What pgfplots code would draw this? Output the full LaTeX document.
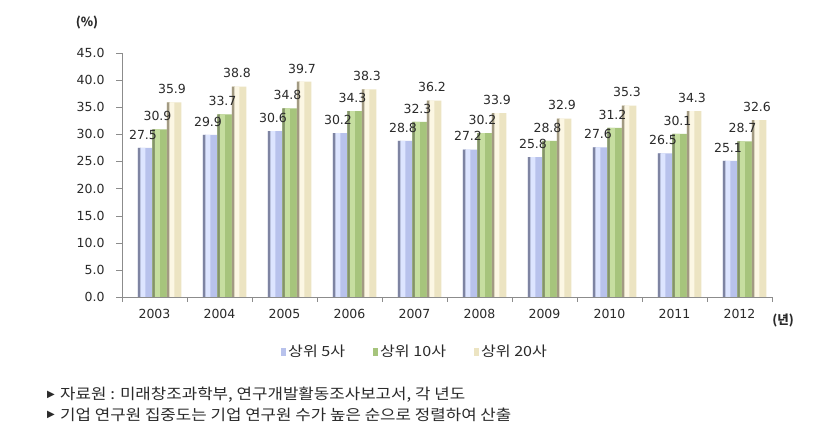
\documentclass[border=0pt]{standalone}
\usepackage{fontspec}
\setmainfont{Noto Sans CJK KR}
\newfontfamily\numfont{DejaVu Sans}
\newfontfamily\symfont{DejaVu Sans}
\usepackage{pgfplots}
\usepackage{pgfplotstable}
\pgfplotsset{compat=1.18}
\definecolor{txt}{HTML}{2A2A2A}
\definecolor{axisgray}{HTML}{8C8C8C}
\definecolor{bdark}{HTML}{7E84A2}\definecolor{bbase}{HTML}{B8C2EC}\definecolor{blite}{HTML}{DDE5FF}
\definecolor{gdark}{HTML}{84946A}\definecolor{gbase}{HTML}{A6C47C}\definecolor{glite}{HTML}{C6DEA0}
\definecolor{ydark}{HTML}{A29A82}\definecolor{ybase}{HTML}{ECE4C2}\definecolor{ylite}{HTML}{FCF7E4}
\pgfplotstableread{
x  s5   s10  s20
0  27.5 30.9 35.9
1  29.9 33.7 38.8
2  30.6 34.8 39.7
3  30.2 34.3 38.3
4  28.8 32.3 36.2
5  27.2 30.2 33.9
6  25.8 28.8 32.9
7  27.6 31.2 35.3
8  26.5 30.1 34.3
9  25.1 28.7 32.6
}\datatable
\begin{document}
\begin{tikzpicture}[x=1pt,y=1pt]
\useasboundingbox (0,0) rectangle (840,438);
\fill[white] (0,0) rectangle (840,438);
\begin{axis}[
  at={(122pt,141pt)}, anchor=south west,
  scale only axis, width=650pt, height=244pt,
  xmin=-0.5, xmax=9.5, ymin=0, ymax=45,
  axis lines=left, axis line style={axisgray, -},
  ybar, bar width=14.5pt,
  xtick={0,...,9},
  xticklabels={2003,2004,2005,2006,2007,2008,2009,2010,2011,2012},
  minor xtick={-0.5,0.5,...,9.5},
  major x tick style={draw=none},
  minor tick length=5pt,
  tick align=outside,
  ytick={0,5,...,45},
  major tick length=6pt,
  tick style={axisgray},
  y tick label style={/pgf/number format/.cd, fixed, fixed zerofill, precision=1, /tikz/.cd, xshift=-8pt},
  /pgf/number format/assume math mode=true,
  tick label style={font=\numfont\fontsize{12.5}{12.5}\selectfont, text=txt},
  x tick label style={yshift=-3pt},
  nodes near coords style={font=\numfont\fontsize{12.5}{12.5}\selectfont, text=txt,
     /pgf/number format/.cd, fixed, fixed zerofill, precision=1, assume math mode=true, /tikz/.cd},
  every node near coord/.append style={yshift=5pt, xshift=-2pt},
  legend columns=3,
  legend style={draw=none, fill=none, at={(0.2446,-0.225)}, anchor=west, inner sep=0pt,
     font=\fontsize{14}{14}\selectfont, text=txt,
     /tikz/every even column/.append style={column sep=26pt}},
  legend image code/.code={\path[#1, draw=none] (0pt,-4pt) rectangle (5pt,4pt);},
  clip=false,
]
% series 1
\addplot[bar shift=-9.5pt, draw=none, fill=bbase, nodes near coords] table[x=x,y=s5] {\datatable};
\addplot[forget plot, bar shift=-15.25pt, bar width=3pt, draw=none, fill=bdark] table[x=x,y=s5] {\datatable};
\addplot[forget plot, bar shift=-11.75pt, bar width=5pt, draw=none, fill=blite] table[x=x,y=s5] {\datatable};
% series 2
\addplot[bar shift=5pt, draw=none, fill=gbase, nodes near coords] table[x=x,y=s10] {\datatable};
\addplot[forget plot, bar shift=-0.75pt, bar width=3pt, draw=none, fill=gdark] table[x=x,y=s10] {\datatable};
\addplot[forget plot, bar shift=2.75pt, bar width=5pt, draw=none, fill=glite] table[x=x,y=s10] {\datatable};
% series 3
\addplot[bar shift=19.5pt, draw=none, fill=ybase, nodes near coords] table[x=x,y=s20] {\datatable};
\addplot[forget plot, bar shift=13.75pt, bar width=3pt, draw=none, fill=ydark] table[x=x,y=s20] {\datatable};
\addplot[forget plot, bar shift=17.25pt, bar width=5pt, draw=none, fill=ylite] table[x=x,y=s20] {\datatable};
\legend{\scalebox{1.15}[1]{상위 5사}, \scalebox{1.15}[1]{상위 10사}, \scalebox{1.15}[1]{상위 20사}}
\end{axis}
\node[font=\fontsize{12.5}{12.5}\selectfont\bfseries, text=txt] at (87,415) {(\%)};
\node[font=\fontsize{12.5}{12.5}\selectfont\bfseries, text=txt] at (783,117) {(년)};
\node[anchor=west, inner sep=0pt, font=\symfont\fontsize{10}{10}\selectfont, text=txt] at (47,43) {▶};
\node[anchor=west, inner sep=0pt, font=\fontsize{15}{15}\selectfont, text=txt] at (60,43) {\scalebox{1.12}[1]{자료원 : 미래창조과학부, 연구개발활동조사보고서, 각 년도}};
\node[anchor=west, inner sep=0pt, font=\symfont\fontsize{10}{10}\selectfont, text=txt] at (47,23) {▶};
\node[anchor=west, inner sep=0pt, font=\fontsize{15}{15}\selectfont, text=txt] at (60,23) {\scalebox{1.12}[1]{기업 연구원 집중도는 기업 연구원 수가 높은 순으로 정렬하여 산출}};
\end{tikzpicture}
\end{document}
